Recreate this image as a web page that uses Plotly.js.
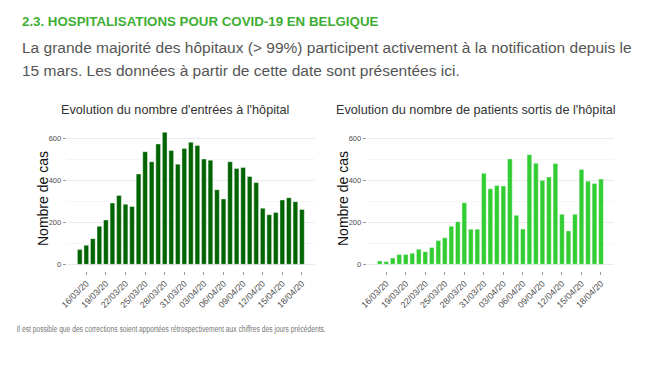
<!DOCTYPE html>
<html>
<head>
<meta charset="utf-8">
<script src="https://cdn.plot.ly/plotly-3.0.1.min.js"></script>
<style>
html,body{margin:0;padding:0;background:#fff;}
#chart{width:650px;height:372px;}
</style>
</head>
<body>
<div id="chart"></div>
<script>
// ---- data ----
const dates = [
  "2020-03-15","2020-03-16","2020-03-17","2020-03-18","2020-03-19","2020-03-20","2020-03-21",
  "2020-03-22","2020-03-23","2020-03-24","2020-03-25","2020-03-26","2020-03-27","2020-03-28",
  "2020-03-29","2020-03-30","2020-03-31","2020-04-01","2020-04-02","2020-04-03","2020-04-04",
  "2020-04-05","2020-04-06","2020-04-07","2020-04-08","2020-04-09","2020-04-10","2020-04-11",
  "2020-04-12","2020-04-13","2020-04-14","2020-04-15","2020-04-16","2020-04-17","2020-04-18"
];
const entrees = [70, 91, 122, 181, 211, 292, 328, 286, 275, 430, 536, 488, 573, 629, 542,
  477, 552, 581, 566, 501, 496, 355, 311, 488, 456, 461, 418, 389, 267, 236, 247, 306, 317, 298, 261];
const sorties = [16, 13, 30, 47, 47, 53, 72, 60, 80, 113, 126, 181, 203, 293, 167,
  167, 433, 360, 375, 373, 502, 233, 168, 522, 481, 400, 416, 480, 238, 159, 238, 452, 396, 385, 406];
const tickDates = ["2020-03-16","2020-03-19","2020-03-22","2020-03-25","2020-03-28","2020-03-31",
  "2020-04-03","2020-04-06","2020-04-09","2020-04-12","2020-04-15","2020-04-18"];
const yTicks = [0, 200, 400, 600];

const heading = "2.3. HOSPITALISATIONS POUR COVID-19 EN BELGIQUE";
const intro1 = "La grande majorité des hôpitaux (> 99%) participent activement à la notification depuis le";
const intro2 = "15 mars. Les données à partir de cette date sont présentées ici.";
const titleLeft = "Evolution du nombre d'entrées à l'hôpital";
const titleRight = "Evolution du nombre de patients sortis de l'hôpital";
const yTitle = "Nombre de cas";
const footer = "Il est possible que des corrections soient apportées rétrospectivement aux chiffres des jours précédents.";

// ---- layout helpers ----
const W = 650, H = 372;
const px = x => x / W;
const py = y => 1 - y / H;
const FONT = "Liberation Sans, Arial, sans-serif";
const DAY = 86400000;

const traces = [
  {type:'bar', x:dates, y:entrees, xaxis:'x', yaxis:'y', width:0.72*DAY,
   marker:{color:'#006400', line:{color:'#ffffff', width:0.4}}, hoverinfo:'x+y'},
  {type:'bar', x:dates, y:sorties, xaxis:'x2', yaxis:'y2', width:0.72*DAY,
   marker:{color:'#32CD32', line:{color:'#ffffff', width:0.4}}, hoverinfo:'x+y'}
];

function xax(domain){
  return {
    type:'date', domain:domain, range:['2020-03-13','2020-04-20'],
    tickvals:tickDates, tickformat:'%d/%m/%y', tickangle:-45,
    ticks:'outside', ticklen:3, tickcolor:'#999', tickwidth:1,
    tickfont:{family:FONT, size:8.8, color:'#4d4d4d'},
    showgrid:false, zeroline:false, showline:false, fixedrange:true
  };
}
function yax(anchor){
  return {
    anchor:anchor, domain:[py(270.9), py(125.7)], range:[-31.5, 660],
    tickvals:yTicks, ticks:'outside', ticklen:3, tickcolor:'#999', tickwidth:1,
    tickfont:{family:FONT, size:7.5, color:'#4d4d4d'},
    showgrid:true, gridcolor:'#ebebeb', gridwidth:1,
    minor:{dtick:100, tick0:0, showgrid:true, gridcolor:'#f5f5f5', gridwidth:1, ticklen:0},
    zeroline:false, showline:false, fixedrange:true
  };
}

const ann = [
  {text:'<b>'+heading+'</b>', x:px(20), y:py(22), xanchor:'left', yanchor:'middle',
   font:{family:FONT, size:13.3, color:'#3fae36'}},
  {text:intro1, x:px(20), y:py(47), xanchor:'left', yanchor:'middle',
   font:{family:FONT, size:15.5, color:'#555555'}},
  {text:intro2, x:px(20), y:py(70), xanchor:'left', yanchor:'middle',
   font:{family:FONT, size:15.5, color:'#555555'}},
  {text:titleLeft, x:px(174.5), y:py(110), xanchor:'center', yanchor:'middle',
   font:{family:FONT, size:12.7, color:'#333333'}},
  {text:titleRight, x:px(476), y:py(110), xanchor:'center', yanchor:'middle',
   font:{family:FONT, size:12.7, color:'#333333'}},
  {text:yTitle, x:px(43), y:py(199), xanchor:'center', yanchor:'middle', textangle:-90,
   font:{family:FONT, size:14, color:'#111111'}},
  {text:yTitle, x:px(343), y:py(199), xanchor:'center', yanchor:'middle', textangle:-90,
   font:{family:FONT, size:14, color:'#111111'}},
  {text:footer, x:px(170.5), y:py(329), xanchor:'center', yanchor:'middle',
   font:{family:FONT, size:8.5, color:'#777777'}}
].map(a => Object.assign({xref:'paper', yref:'paper', showarrow:false}, a));

const layout = {
  width:W, height:H, margin:{l:0, r:0, t:0, b:0},
  paper_bgcolor:'#ffffff', plot_bgcolor:'#ffffff',
  showlegend:false, bargap:0,
  xaxis: xax([px(66.7), px(315)]),
  xaxis2: Object.assign(xax([px(366.7), px(614)]), {anchor:'y2'}),
  yaxis: yax('x'),
  yaxis2: yax('x2'),
  annotations: ann,
  font:{family:FONT}
};
layout.xaxis.anchor = 'y';

Plotly.newPlot('chart', traces, layout, {displayModeBar:false, staticPlot:true}).then(gd => {
  // the footer in the reference is set in a condensed face: compress it to its width
  gd.querySelectorAll('text.annotation-text').forEach(t => {
    if (t.textContent === footer) {
      t.setAttribute('textLength', '309');
      t.setAttribute('lengthAdjust', 'spacingAndGlyphs');
    }
  });
});
</script>
</body>
</html>
